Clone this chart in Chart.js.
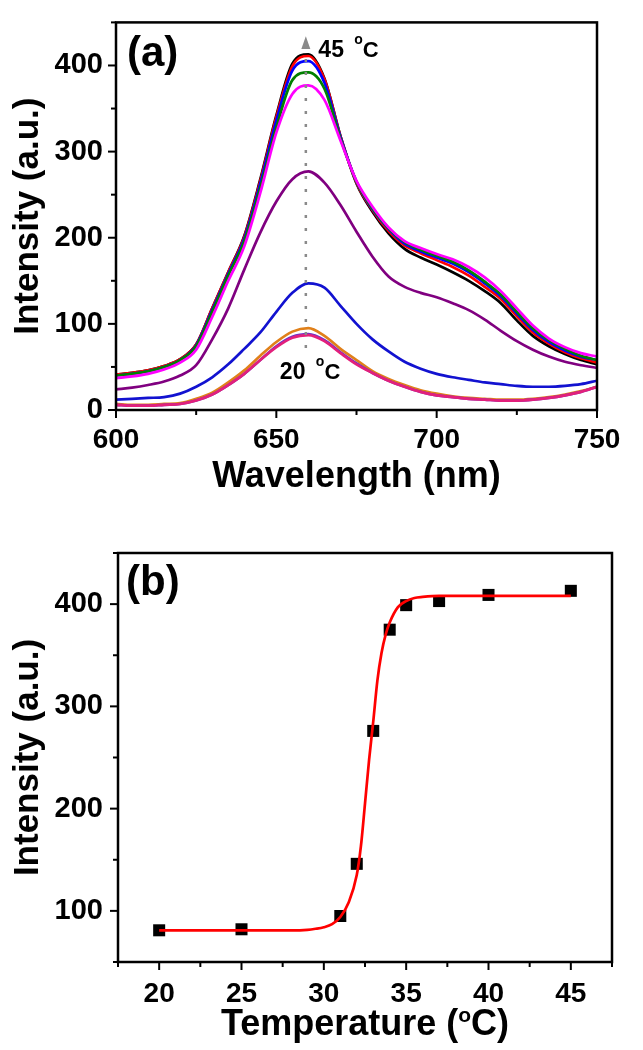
<!doctype html>
<html lang="en">
<head>
<meta charset="utf-8">
<title>Fluorescence spectra vs temperature</title>
<script src="https://cdn.jsdelivr.net/npm/chart.js@4.4.1/dist/chart.umd.min.js"></script>
<style>
  body { margin: 0; background: #fff; }
  #wrap { position: relative; width: 643px; height: 1050px; }
  canvas { position: absolute; left: 0; }
  #spectra { top: 0; }
  #lcst { top: 510px; }
</style>
</head>
<body>
<div id="wrap">
  <canvas id="spectra" width="643" height="510"></canvas>
  <canvas id="lcst" width="643" height="540"></canvas>
</div>
<script>
// ---- panel (a): emission spectra, every 5 nm ----
const wavelengths = [600,605,610,615,620,625,630,635,640,645,650,655,660,665,670,675,680,685,690,695,700,705,710,715,720,725,730,735,740,745,750];
const spec45 = [41,43,46,51,59,76,118,160,202,268,342,402,413,385,318,263,230,205,187,177,169,160,150,138,124,104,86,74,65,58,53];
const spec40 = [41,43,46,51,59,76,118,160,201,266,340,399,411,384,318,264,232,208,191,182,174,166,156,143,129,109,90,77,67,60,55];
const spec37 = [40,42,45,50,58,75,116,158,199,263,336,394,405,380,317,265,233,210,193,184,177,170,160,147,132,112,93,79,69,62,58];
const spec35 = [40,42,45,50,58,74,114,156,196,258,328,383,392,373,315,265,234,211,195,186,179,172,162,149,134,114,95,81,71,63,58];
const spec34 = [37,39,42,47,55,70,108,150,190,252,322,367,377,360,313,266,236,212,196,188,181,175,166,154,138,118,98,83,73,66,62];
const spec33 = [24,26,29,33,40,52,82,118,163,206,242,268,277,264,238,207,178,155,143,136,131,124,116,105,92,80,70,62,56,52,49];
const spec32 = [12,13,14,15,19,27,38,53,71,90,114,136,147,142,121,100,82,68,56,48,42,38,35,32,30,28,27,27,28,30,34];
const spec31 = [7,6,6,7,8,13,20,32,46,63,79,91,95,86,71,58,45,36,29,23,19,16,14,13,12,12,13,15,18,22,27];
const spec25 = [6,5,5,6,7,11,18,29,42,58,74,85,88,81,67,54,43,34,27,21,17,15,13,12,11,11,12,14,17,21,27];
const spec20 = [6,5,5,6,7,11,18,29,42,58,73,84,87,80,66,53,43,34,27,21,17,15,13,12,11,11,12,14,17,21,27];
const peakWavelength = 659.2;

// ---- panel (b): peak intensity vs temperature ----
const temps = [20,25,31,32,33,34,35,37,40,45];
const peakIntensity = [81,82,95,146,276,375,399,403,409,413];
const fitTemps = [20,22,24,26,28,29,29.5,30,30.5,31,31.5,32,32.25,32.5,32.75,33,33.25,33.5,33.75,34,34.5,35,35.5,36,37,38,40,42,45];
const fitIntensity = [81,81,81,81,81,81.5,82.5,84,87,94,108,135,163,205,248,285,325,352,370,382,397,403,406,407,408,408,408,408,408];

const FONT = "'Liberation Sans', Arial, Helvetica, sans-serif";
Chart.defaults.font.family = FONT;
Chart.defaults.color = '#000';

function curve(values) {
  return wavelengths.map((w, i) => ({ x: w, y: values[i] }));
}

function spectrum(values, color) {
  return {
    data: curve(values),
    borderColor: color,
    borderWidth: 2.7,
    pointRadius: 0,
    fill: false,
    cubicInterpolationMode: 'monotone'
  };
}

// all tick marks + closed frame, drawn from the chart's own scales
const frameAndTicks = {
  id: 'frameAndTicks',
  afterDraw(chart) {
    const { ctx, chartArea: a, scales: { x, y } } = chart;
    ctx.save();
    ctx.strokeStyle = '#000';
    ctx.lineWidth = 2;
    x.ticks.forEach(t => {
      const px = x.getPixelForValue(t.value);
      const len = t.label === '' ? 5 : 8;
      ctx.beginPath();
      ctx.moveTo(px, a.bottom);
      ctx.lineTo(px, a.bottom + len);
      ctx.stroke();
    });
    y.ticks.forEach(t => {
      const py = y.getPixelForValue(t.value);
      const len = t.label === '' ? 5 : 8;
      ctx.beginPath();
      ctx.moveTo(a.left, py);
      ctx.lineTo(a.left - len, py);
      ctx.stroke();
    });
    ctx.lineWidth = 2.5;
    ctx.strokeRect(a.left, a.top, a.right - a.left, a.bottom - a.top);
    ctx.restore();
  }
};

function degreeLabel(ctx, num, x, base) {
  ctx.font = `bold 23px ${FONT}`;
  ctx.fillText(num, x, base);
  let cx = x + ctx.measureText(num + ' ').width + 4;
  ctx.font = `bold 14px ${FONT}`;
  ctx.fillText('o', cx, base - 12.5);
  cx += ctx.measureText('o').width;
  ctx.font = `bold 22px ${FONT}`;
  ctx.fillText('C', cx, base);
}

const spectraNotes = {
  id: 'spectraNotes',
  afterDraw(chart) {
    const { ctx, chartArea: a, scales: { x, y } } = chart;
    ctx.save();
    ctx.fillStyle = '#000';
    ctx.textAlign = 'left';
    ctx.textBaseline = 'alphabetic';
    ctx.font = `bold 42px ${FONT}`;
    ctx.fillText('(a)', a.left + 11, a.top + 44);
    degreeLabel(ctx, '45', x.getPixelForValue(663.1), y.getPixelForValue(410));
    degreeLabel(ctx, '20', x.getPixelForValue(651.1), y.getPixelForValue(36));
    // grey arrow head on the guide line
    const ax = x.getPixelForValue(peakWavelength);
    ctx.fillStyle = '#8a8a8a';
    ctx.beginPath();
    ctx.moveTo(ax, y.getPixelForValue(434));
    ctx.lineTo(ax + 4.5, y.getPixelForValue(419));
    ctx.lineTo(ax - 4.5, y.getPixelForValue(419));
    ctx.closePath();
    ctx.fill();
    ctx.restore();
  }
};

const lcstNotes = {
  id: 'lcstNotes',
  afterDraw(chart) {
    const { ctx, chartArea: a } = chart;
    ctx.save();
    ctx.fillStyle = '#000';
    ctx.textAlign = 'left';
    ctx.textBaseline = 'alphabetic';
    ctx.font = `bold 42px ${FONT}`;
    ctx.fillText('(b)', a.left + 8, a.top + 42);
    // axis title with superscript o
    const big = `bold 36px ${FONT}`, small = `bold 21px ${FONT}`;
    ctx.font = big;
    const w1 = ctx.measureText('Temperature (').width;
    const w3 = ctx.measureText('C)').width;
    ctx.font = small;
    const w2 = ctx.measureText('o').width;
    const base = a.bottom + 73;
    const sx = (a.left + a.right) / 2 - (w1 + w2 + w3) / 2;
    ctx.font = big;
    ctx.fillText('Temperature (', sx, base);
    ctx.font = small;
    ctx.fillText('o', sx + w1, base - 13);
    ctx.font = big;
    ctx.fillText('C)', sx + w1 + w2, base);
    ctx.restore();
  }
};

const xTickFont = { size: 28, weight: 'bold' };
const yTickFont = { size: 29, weight: 'bold' };

new Chart(document.getElementById('spectra'), {
  type: 'line',
  data: {
    datasets: [
      {
        data: [{ x: peakWavelength, y: 72 }, { x: peakWavelength, y: 416 }],
        borderColor: '#8a8a8a', borderWidth: 2.5, borderDash: [3, 10],
        pointRadius: 0, fill: false
      },
      spectrum(spec20, '#e3207b'),
      spectrum(spec25, '#6a32c8'),
      spectrum(spec31, '#e0801a'),
      spectrum(spec32, '#1212d0'),
      spectrum(spec33, '#800080'),
      spectrum(spec34, '#ff00ff'),
      spectrum(spec35, '#008000'),
      spectrum(spec37, '#0000ff'),
      spectrum(spec40, '#ff0000'),
      spectrum(spec45, '#000000')
    ]
  },
  options: {
    responsive: false,
    animation: false,
    layout: { padding: { left: 0, top: 11, right: 46, bottom: 0 } },
    plugins: { legend: { display: false }, tooltip: { enabled: false } },
    scales: {
      x: {
        type: 'linear', min: 600, max: 750,
        ticks: { stepSize: 25, autoSkip: false, maxRotation: 0, padding: 5, font: xTickFont,
                 callback: v => (v % 50 === 0 ? v : '') },
        grid: { drawOnChartArea: false, tickLength: 8, tickColor: 'rgba(0,0,0,0)' },
        border: { display: false },
        title: { display: true, text: 'Wavelength (nm)', font: { size: 36, weight: 'bold' },
                 padding: { top: 0, bottom: 11 } },
        afterFit: s => { s.height = 100; }
      },
      y: {
        min: 0, max: 450,
        ticks: { stepSize: 50, autoSkip: false, padding: 5, font: yTickFont,
                 callback: v => (v % 100 === 0 ? v : '') },
        grid: { drawOnChartArea: false, tickLength: 8, tickColor: 'rgba(0,0,0,0)' },
        border: { display: false },
        title: { display: true, text: 'Intensity (a.u.)', font: { size: 35, weight: 'bold' },
                 padding: { top: 7, bottom: 0 } },
        afterFit: s => { s.width = 116; }
      }
    }
  },
  plugins: [frameAndTicks, spectraNotes]
});

new Chart(document.getElementById('lcst'), {
  type: 'line',
  data: {
    datasets: [
      {
        data: fitTemps.map((t, i) => ({ x: t, y: fitIntensity[i] })),
        borderColor: '#ff0000', borderWidth: 2.7, pointRadius: 0,
        fill: false, cubicInterpolationMode: 'monotone'
      },
      {
        data: temps.map((t, i) => ({ x: t, y: peakIntensity[i] })),
        showLine: false, pointStyle: 'rect', pointRadius: 8.5,
        backgroundColor: '#000', borderWidth: 0
      }
    ]
  },
  options: {
    responsive: false,
    animation: false,
    layout: { padding: { left: 0, top: 43, right: 31, bottom: 0 } },
    plugins: { legend: { display: false }, tooltip: { enabled: false } },
    scales: {
      x: {
        type: 'linear', min: 17.5, max: 47.5,
        ticks: { stepSize: 2.5, autoSkip: false, maxRotation: 0, padding: 7, font: xTickFont,
                 callback: v => (v % 5 === 0 ? v : '') },
        grid: { drawOnChartArea: false, tickLength: 8, tickColor: 'rgba(0,0,0,0)' },
        border: { display: false },
        title: { display: false },
        afterFit: s => { s.height = 88; }
      },
      y: {
        min: 50, max: 450,
        ticks: { stepSize: 50, autoSkip: false, padding: 7, font: yTickFont,
                 callback: v => (v % 100 === 0 ? v : '') },
        grid: { drawOnChartArea: false, tickLength: 8, tickColor: 'rgba(0,0,0,0)' },
        border: { display: false },
        title: { display: true, text: 'Intensity (a.u.)', font: { size: 35, weight: 'bold' },
                 padding: { top: 7, bottom: 0 } },
        afterFit: s => { s.width = 118; }
      }
    }
  },
  plugins: [frameAndTicks, lcstNotes]
});
</script>
</body>
</html>
